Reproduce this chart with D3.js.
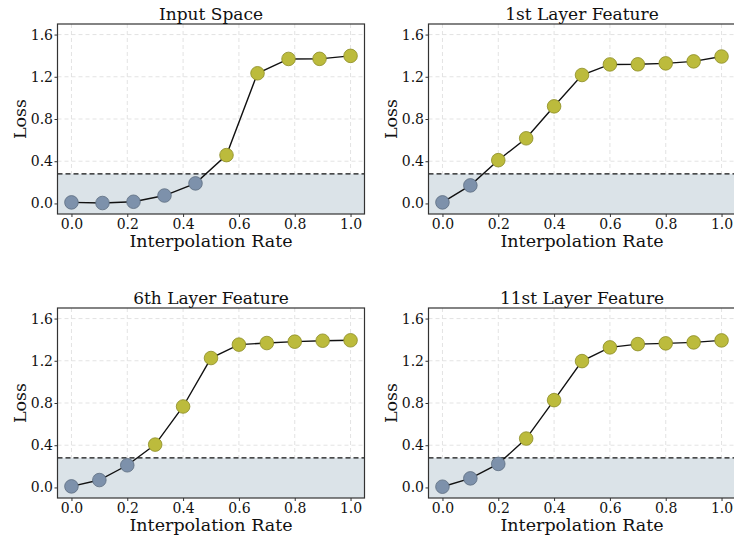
<!DOCTYPE html>
<html>
<head>
<meta charset="utf-8">
<script src="https://cdn.jsdelivr.net/npm/d3@7"></script>
<style>
  html, body { margin: 0; padding: 0; background: #fff; }
  svg { display: block; }
  text { font-family: "DejaVu Serif", serif; fill: #111; }
</style>
</head>
<body>
<svg id="chart" width="734" height="539"></svg>
<script>
// Interpolation rates for each panel
const ratesInput = [0, 1/9, 2/9, 3/9, 4/9, 5/9, 6/9, 7/9, 8/9, 1];
const ratesLayer = [0, 0.1, 0.2, 0.3, 0.4, 0.5, 0.6, 0.7, 0.8, 0.9, 1.0];

// Loss values
const lossInput = [0.010, 0.004, 0.016, 0.075, 0.190, 0.458, 1.233, 1.369, 1.370, 1.398];
const loss1st   = [0.010, 0.171, 0.410, 0.617, 0.920, 1.217, 1.317, 1.318, 1.327, 1.346, 1.392];
const loss6th   = [0.010, 0.070, 0.210, 0.406, 0.767, 1.226, 1.353, 1.368, 1.381, 1.390, 1.394];
const loss11st  = [0.007, 0.086, 0.223, 0.463, 0.827, 1.197, 1.327, 1.358, 1.365, 1.374, 1.393];

const titles = ["Input Space", "1st Layer Feature", "6th Layer Feature", "11st Layer Feature"];
const xTicks = [0.0, 0.2, 0.4, 0.6, 0.8, 1.0];
const yTicks = [0.0, 0.4, 0.8, 1.2, 1.6];
const threshold = 0.28;

const panels = [
  { title: titles[0], x: ratesInput, y: lossInput, left: 57.5, top: 24 },
  { title: titles[1], x: ratesLayer, y: loss1st,   left: 428.5, top: 24 },
  { title: titles[2], x: ratesLayer, y: loss6th,   left: 57.5, top: 308 },
  { title: titles[3], x: ratesLayer, y: loss11st,  left: 428.5, top: 308 }
];

const W = 307, H = 190;
const colBelow = "#7d91ab", colAbove = "#bcbb3c";
const edgeBelow = "#5d6d80", edgeAbove = "#8c8b24";

const svg = d3.select("#chart");

panels.forEach(p => {
  const g = svg.append("g").attr("transform", `translate(${p.left},${p.top})`);
  const x = d3.scaleLinear().domain([-0.05, 1.05]).range([0, W]);
  const y = d3.scaleLinear().domain([-0.1, 1.7]).range([H, 0]);

  // grid
  g.append("g").selectAll("line").data(xTicks).join("line")
    .attr("x1", d => x(d)).attr("x2", d => x(d)).attr("y1", 0).attr("y2", H)
    .attr("stroke", "#dcdcdc").attr("stroke-width", 0.8).attr("stroke-dasharray", "4,3");
  g.append("g").selectAll("line").data(yTicks).join("line")
    .attr("y1", d => y(d)).attr("y2", d => y(d)).attr("x1", 0).attr("x2", W)
    .attr("stroke", "#dcdcdc").attr("stroke-width", 0.8).attr("stroke-dasharray", "4,3");

  // shaded region below threshold
  g.append("rect")
    .attr("x", 0).attr("width", W)
    .attr("y", y(threshold)).attr("height", H - y(threshold))
    .attr("fill", "#dbe3e8");

  g.append("line")
    .attr("x1", 0).attr("x2", W).attr("y1", y(threshold)).attr("y2", y(threshold))
    .attr("stroke", "#111").attr("stroke-width", 1.3).attr("stroke-dasharray", "5,3");

  // line + markers
  const pts = p.x.map((v, i) => [v, p.y[i]]);
  g.append("path").datum(pts)
    .attr("fill", "none").attr("stroke", "#111").attr("stroke-width", 1.4)
    .attr("d", d3.line().x(d => x(d[0])).y(d => y(d[1])));

  g.append("g").selectAll("circle").data(pts).join("circle")
    .attr("cx", d => x(d[0])).attr("cy", d => y(d[1])).attr("r", 6.8)
    .attr("fill", d => d[1] < threshold ? colBelow : colAbove)
    .attr("stroke", d => d[1] < threshold ? edgeBelow : edgeAbove)
    .attr("stroke-width", 0.8);

  // axes
  const xa = g.append("g").attr("transform", `translate(0,${H})`)
    .call(d3.axisBottom(x).tickValues(xTicks).tickFormat(d3.format(".1f")).tickSize(3).tickPadding(2.5));
  const ya = g.append("g")
    .call(d3.axisLeft(y).tickValues(yTicks).tickFormat(d3.format(".1f")).tickSize(3).tickPadding(1.5));
  [xa, ya].forEach(a => {
    a.select(".domain").remove();
    a.selectAll("line").attr("stroke", "#333");
    a.selectAll("text").style("font-family", "'DejaVu Serif', serif").style("font-size", "14px").attr("fill", "#222");
  });

  // frame
  g.append("rect").attr("x", 0).attr("y", 0).attr("width", W).attr("height", H)
    .attr("fill", "none").attr("stroke", "#333").attr("stroke-width", 1.2);

  // labels
  g.append("text").attr("x", W / 2).attr("y", -4).attr("text-anchor", "middle")
    .style("font-size", "17px").text(p.title);
  g.append("text").attr("x", W / 2).attr("y", H + 33).attr("text-anchor", "middle")
    .style("font-size", "17.5px").text("Interpolation Rate");
  g.append("text").attr("transform", `translate(${-32},${H / 2}) rotate(-90)`)
    .attr("text-anchor", "middle").style("font-size", "17.5px").text("Loss");
});
</script>
</body>
</html>
